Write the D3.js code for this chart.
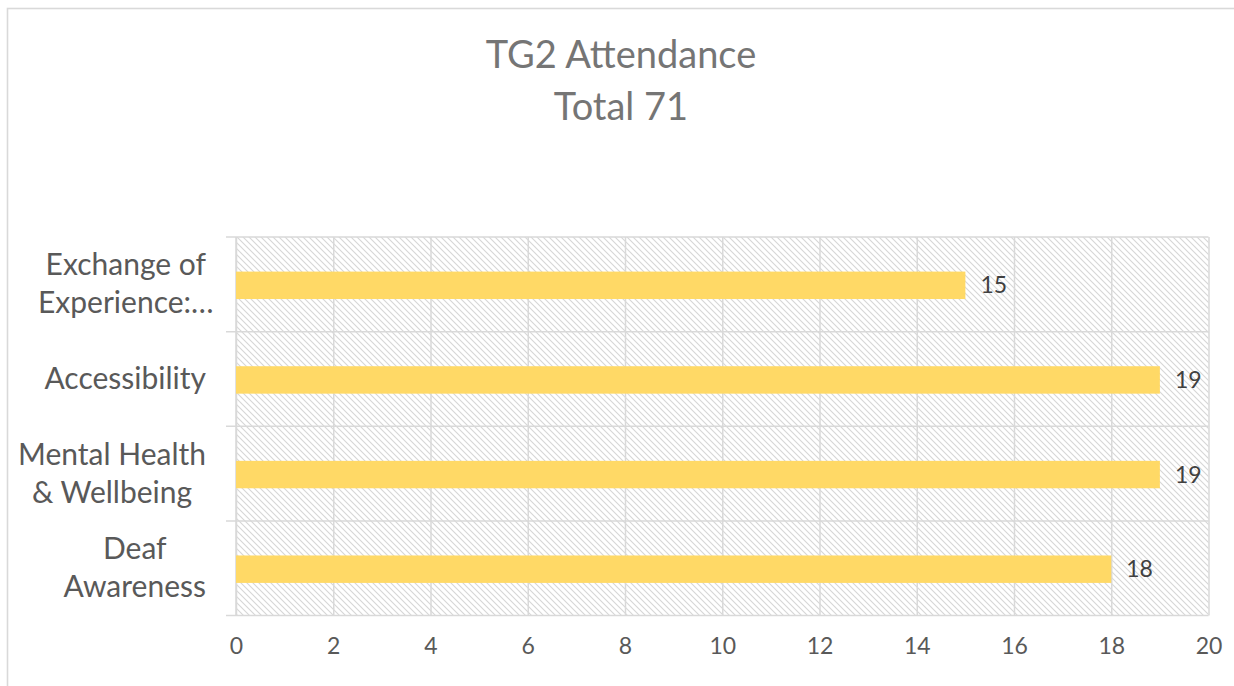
<!DOCTYPE html>
<html>
<head>
<meta charset="utf-8">
<script src="https://cdn.jsdelivr.net/npm/d3@7"></script>
<style>
  html, body { margin: 0; padding: 0; background: #fff; }
  svg { display: block; font-family: Lato, "Open Sans", sans-serif; }
</style>
</head>
<body>
<svg id="chart" width="1234" height="686"></svg>
<script>
// ---- data ----
const titleLines = ["TG2 Attendance", "Total 71"];
const categories = ["Exchange of Experience:…", "Accessibility", "Mental Health & Wellbeing", "Deaf Awareness"];
const categoryLines = [["Exchange of", "Experience:…"], ["Accessibility"], ["Mental Health", "& Wellbeing"], ["Deaf", "Awareness"]];
const values = [15, 19, 19, 18];
const xTicks = [0, 2, 4, 6, 8, 10, 12, 14, 16, 18, 20];

// ---- layout ----
const W = 1234, H = 686;
const plot = { left: 236, right: 1208.5, top: 237, bottom: 615.5 };
const svg = d3.select("#chart");

const x = d3.scaleLinear().domain([0, 20]).range([plot.left, plot.right]);
const y = d3.scaleBand().domain(categories).range([plot.top, plot.bottom]).padding(0);

// chart border
svg.append("rect")
  .attr("x", 7.5).attr("y", 8.5)
  .attr("width", W + 20).attr("height", H + 20)
  .attr("fill", "#fff").attr("stroke", "#d9d9d9").attr("stroke-width", 1.6);

// hatch pattern
const defs = svg.append("defs");
const pat = defs.append("pattern")
  .attr("id", "hatch").attr("patternUnits", "userSpaceOnUse")
  .attr("width", 6).attr("height", 6);
pat.append("rect").attr("width", 6).attr("height", 6).attr("fill", "#fff");
pat.append("path")
  .attr("d", "M0,0 L6,6 M-1,5 L1,7 M5,-1 L7,1")
  .attr("stroke", "#d6d6d6").attr("stroke-width", 1.1).attr("fill", "none");

svg.append("rect")
  .attr("x", plot.left).attr("y", plot.top)
  .attr("width", plot.right - plot.left).attr("height", plot.bottom - plot.top)
  .attr("fill", "url(#hatch)");

// vertical gridlines
const gx = svg.append("g")
  .attr("transform", `translate(0,${plot.top})`)
  .call(d3.axisBottom(x).tickValues(xTicks).tickSize(plot.bottom - plot.top).tickFormat(""));
gx.select(".domain").remove();
gx.selectAll(".tick line").attr("stroke", "#d9d9d9").attr("stroke-width", 1.5);

// horizontal category boundary lines (incl. small left ticks)
const bounds = categories.map(c => y(c)).concat([y(categories[categories.length - 1]) + y.bandwidth()]);
svg.append("g").selectAll("line").data(bounds).join("line")
  .attr("x1", plot.left - 10).attr("x2", plot.right)
  .attr("y1", d => d).attr("y2", d => d)
  .attr("stroke", "#d9d9d9").attr("stroke-width", 1.5);

// left axis line
svg.append("line")
  .attr("x1", plot.left).attr("x2", plot.left)
  .attr("y1", plot.top).attr("y2", plot.bottom)
  .attr("stroke", "#d9d9d9").attr("stroke-width", 1.5);

// bars
const barH = y.bandwidth() * 0.29;
svg.append("g").selectAll("rect").data(values).join("rect")
  .attr("x", x(0))
  .attr("y", (d, i) => y(categories[i]) + y.bandwidth() / 2 - barH / 2 + 1)
  .attr("width", d => x(d) - x(0))
  .attr("height", barH)
  .attr("fill", "#ffd966");

// data labels
svg.append("g").selectAll("text").data(values).join("text")
  .attr("x", d => x(d) + 15)
  .attr("y", (d, i) => y(categories[i]) + y.bandwidth() / 2 + 9)
  .attr("font-size", 23).attr("fill", "#404040")
  .text(d => d);

// x tick labels
const xa = svg.append("g")
  .attr("transform", `translate(0,${plot.bottom})`)
  .call(d3.axisBottom(x).tickValues(xTicks).tickSize(0).tickPadding(0));
xa.select(".domain").remove();
xa.selectAll(".tick text")
  .attr("y", 38.5).attr("dy", null)
  .attr("font-size", 23).attr("font-family", "Lato, sans-serif").attr("fill", "#595959");

// category labels (multi-line, centered in a right-aligned box)
const catG = svg.append("g");
const labelRight = 206, lineGap = 38, catSize = 30;
categoryLines.forEach((lines, i) => {
  const cy = y(categories[i]) + y.bandwidth() / 2;
  const texts = lines.map((ln, j) => catG.append("text")
    .attr("font-size", catSize).attr("fill", "#595959")
    .attr("text-anchor", "middle")
    .attr("y", cy + (j - (lines.length - 1) / 2) * lineGap + 10)
    .text(ln));
  // box width = widest line (ignoring trailing ellipsis)
  const widths = lines.map(ln => {
    const tmp = catG.append("text").attr("font-size", catSize).text(ln.replace("…", ""));
    const w = tmp.node().getComputedTextLength();
    tmp.remove();
    return w;
  });
  const boxW = d3.max(widths);
  texts.forEach(t => t.attr("x", labelRight - boxW / 2));
});

// title
svg.append("g").selectAll("text").data(titleLines).join("text")
  .attr("x", 621).attr("y", (d, i) => 68 + i * 52)
  .attr("text-anchor", "middle")
  .attr("font-size", 38).attr("fill", "#757575")
  .text(d => d);
</script>
</body>
</html>
